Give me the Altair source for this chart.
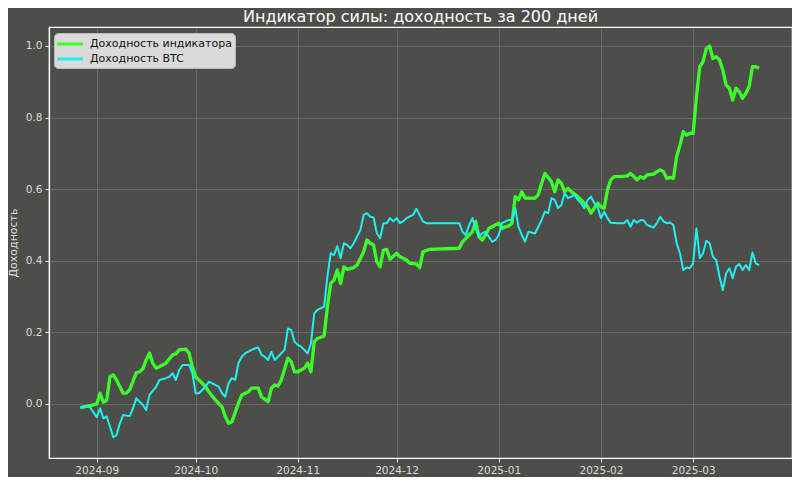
import altair as alt
import pandas as pd

TITLE = "Индикатор силы: доходность за 200 дней"
IND = "Доходность индикатора"
BTC = "Доходность BTC"
Y_TITLE = "Доходность"

# days counted from 2024-09-01
ind_days = [-5, -2, 0, 1, 2, 3, 4, 5, 6, 8, 9, 10, 12, 13, 14, 15, 16, 17, 18, 20,
            21, 23, 24, 25, 27, 28, 29, 30, 31, 33, 34, 36, 38, 39, 40, 41, 43, 44, 46, 47,
            49, 50, 52, 53, 54, 55, 56, 58, 59, 60, 61, 63, 64, 65, 66, 67, 69, 70, 71, 72,
            73, 74, 75, 76, 78, 79, 81, 82, 83, 84, 85, 86, 87, 88, 89, 91, 92, 94, 95, 97,
            98, 99, 101, 110, 111, 113, 114, 115, 116, 117, 118, 119, 121, 122, 123, 124, 125, 126, 127, 128,
            129, 130, 133, 134, 135, 136, 138, 139, 140, 141, 142, 143, 144, 146, 147, 149, 150, 151, 152, 153,
            154, 155, 156, 157, 159, 161, 162, 163, 164, 165, 166, 167, 169, 170, 171, 172, 173, 174, 175, 176,
            177, 178, 179, 180, 181, 182, 183, 184, 185, 186, 187, 188, 189, 190, 191, 192, 193, 194, 195, 196,
            197, 198, 199, 200, 201]
ind_vals = [-0.01, -0.005, 0.0, 0.03, 0.005, 0.01, 0.076, 0.081, 0.067, 0.03, 0.03, 0.04, 0.087, 0.09, 0.098, 0.123, 0.142, 0.114, 0.1, 0.109,
            0.114, 0.137, 0.14, 0.151, 0.153, 0.142, 0.104, 0.076, 0.067, 0.048, 0.034, 0.011, -0.008, -0.035, -0.054, -0.05, 0.002, 0.025, 0.034, 0.044,
            0.044, 0.02, 0.006, 0.044, 0.053, 0.05, 0.067, 0.128, 0.118, 0.09, 0.09, 0.1, 0.114, 0.09, 0.174, 0.183, 0.19, 0.272, 0.337, 0.346,
            0.374, 0.337, 0.383, 0.376, 0.381, 0.388, 0.425, 0.458, 0.449, 0.444, 0.397, 0.383, 0.43, 0.432, 0.404, 0.421, 0.411, 0.402, 0.393, 0.391,
            0.381, 0.425, 0.432, 0.435, 0.453, 0.472, 0.481, 0.51, 0.467, 0.458, 0.472, 0.49, 0.5, 0.505, 0.49, 0.495, 0.497, 0.505, 0.579, 0.57,
            0.593, 0.575, 0.575, 0.585, 0.616, 0.644, 0.621, 0.593, 0.626, 0.616, 0.593, 0.602, 0.593, 0.579, 0.57, 0.551, 0.533, 0.547, 0.561, 0.551,
            0.547, 0.598, 0.626, 0.635, 0.635, 0.637, 0.644, 0.635, 0.626, 0.635, 0.63, 0.64, 0.642, 0.649, 0.654, 0.649, 0.63, 0.633, 0.63, 0.691,
            0.723, 0.761, 0.751, 0.756, 0.756, 0.858, 0.942, 0.956, 0.993, 1.0, 0.965, 0.97, 0.961, 0.933, 0.891, 0.882, 0.849, 0.882, 0.872, 0.854,
            0.868, 0.887, 0.942, 0.942, 0.938]

btc_days = [-5, -3, -2, 0, 1, 2, 3, 4, 5, 6, 7, 8, 10, 11, 12, 13, 14, 15, 16, 18,
            19, 21, 22, 23, 24, 25, 26, 28, 29, 30, 31, 33, 34, 36, 37, 38, 39, 40, 41, 42,
            43, 44, 45, 47, 48, 49, 50, 51, 52, 53, 54, 55, 57, 58, 59, 60, 61, 62, 63, 64,
            65, 66, 67, 69, 70, 71, 72, 73, 74, 75, 76, 77, 78, 80, 81, 82, 83, 84, 85, 86,
            87, 88, 89, 90, 91, 92, 93, 94, 96, 97, 99, 100, 101, 110, 111, 112, 113, 114, 115, 116,
            117, 118, 120, 121, 122, 123, 125, 126, 127, 128, 129, 130, 131, 133, 134, 135, 136, 137, 138, 139,
            140, 141, 142, 143, 144, 145, 146, 147, 148, 149, 150, 151, 152, 153, 154, 155, 156, 158, 160, 161,
            162, 163, 164, 165, 166, 167, 169, 170, 171, 172, 173, 174, 175, 176, 177, 178, 179, 180, 181, 182,
            183, 184, 185, 186, 187, 188, 189, 190, 191, 192, 193, 194, 195, 196, 197, 198, 199, 200, 201]
btc_vals = [-0.01, -0.006, -0.01, -0.037, -0.012, -0.04, -0.035, -0.063, -0.093, -0.087, -0.054, -0.031, -0.034, -0.012, 0.016, 0.006, -0.003, -0.017, 0.025, 0.048,
            0.067, 0.072, 0.076, 0.086, 0.067, 0.095, 0.109, 0.109, 0.086, 0.03, 0.03, 0.048, 0.062, 0.053, 0.048, 0.03, 0.02, 0.058, 0.072, 0.067,
            0.114, 0.132, 0.141, 0.151, 0.155, 0.158, 0.137, 0.132, 0.123, 0.146, 0.123, 0.132, 0.151, 0.211, 0.207, 0.174, 0.165, 0.16, 0.151, 0.141,
            0.169, 0.253, 0.263, 0.272, 0.356, 0.421, 0.416, 0.441, 0.407, 0.449, 0.444, 0.435, 0.449, 0.486, 0.528, 0.533, 0.523, 0.521, 0.477, 0.463,
            0.505, 0.505, 0.519, 0.51, 0.519, 0.505, 0.51, 0.519, 0.528, 0.545, 0.51, 0.505, 0.505, 0.505, 0.481, 0.472, 0.5, 0.519, 0.49, 0.467,
            0.477, 0.481, 0.453, 0.458, 0.472, 0.505, 0.514, 0.514, 0.547, 0.495, 0.472, 0.453, 0.481, 0.476, 0.495, 0.514, 0.537, 0.533, 0.575, 0.57,
            0.547, 0.556, 0.589, 0.575, 0.579, 0.584, 0.57, 0.561, 0.547, 0.57, 0.579, 0.561, 0.551, 0.519, 0.537, 0.519, 0.506, 0.505, 0.505, 0.514,
            0.495, 0.514, 0.506, 0.514, 0.513, 0.5, 0.493, 0.505, 0.523, 0.51, 0.505, 0.507, 0.5, 0.449, 0.421, 0.374, 0.381, 0.379, 0.393, 0.49,
            0.407, 0.421, 0.456, 0.449, 0.411, 0.402, 0.356, 0.318, 0.365, 0.379, 0.351, 0.383, 0.391, 0.374, 0.388, 0.374, 0.423, 0.393, 0.388]

y_ticks = [0.0, 0.2, 0.4, 0.6, 0.8, 1.0]

START = pd.Timestamp("2024-09-01")


def make_df(days, vals, name):
    d = START + pd.to_timedelta(days, unit="D")
    return pd.DataFrame({
        "date": d.strftime("%Y-%m-%dT%H:%M:%S"),
        "value": vals,
        "series": name,
    })


df_ind = make_df(ind_days, ind_vals, IND)
df_btc = make_df(btc_days, btc_vals, BTC)

BG = "#4d4e4a"
FONT = "DejaVu Sans"

month_ticks = [alt.DateTime(year=2024, month=m, date=1) for m in (9, 10, 11, 12)] + \
              [alt.DateTime(year=2025, month=m, date=1) for m in (1, 2, 3)]

x_enc = alt.X(
    "date:T",
    scale=alt.Scale(domain=[alt.DateTime(year=2024, month=8, date=17, hours=12),
                            alt.DateTime(year=2025, month=3, date=31)]),
    axis=alt.Axis(values=month_ticks, format="%Y-%m", title=None, labelFlush=False),
)
y_enc = alt.Y(
    "value:Q",
    scale=alt.Scale(domain=[-0.151, 1.053], nice=False, zero=False),
    axis=alt.Axis(values=y_ticks, format=".1f", title=Y_TITLE),
)
color_scale = alt.Scale(domain=[IND, BTC], range=["#3cff2a", "#1ff0f0"])
legend = alt.Legend(
    title=None, orient="none", legendX=5, legendY=6,
    symbolType="M-2,0H2", symbolStrokeWidth=3, symbolSize=169, symbolOffset=5,
    fillColor="#dadada", strokeColor="#bbbbbb", cornerRadius=4, padding=3,
    labelFont=FONT, labelFontSize=11, labelColor="#111111", rowPadding=1,
    labelLimit=400, labelOffset=12,
)

ind_line = alt.Chart(df_ind).mark_line(strokeWidth=3.3, strokeJoin="round").encode(
    x=x_enc, y=y_enc,
    color=alt.Color("series:N", scale=color_scale, legend=legend),
)
btc_line = alt.Chart(df_btc).mark_line(strokeWidth=2, strokeJoin="round").encode(
    x=x_enc, y=y_enc,
    color=alt.Color("series:N", scale=color_scale, legend=legend),
)

chart = alt.layer(ind_line, btc_line).properties(
    width=743, height=431,
    title=alt.TitleParams(TITLE, font=FONT, fontSize=16, fontWeight="normal",
                          color="#ffffff", anchor="middle", offset=2),
    background=BG,
    padding={"left": 41, "top": 19, "right": 0, "bottom": 19},
    autosize=alt.AutoSizeParams(type="none"),
).configure_view(
    stroke="#ffffff", strokeWidth=1.2, fill=BG,
).configure_axis(
    labelFont=FONT, labelFontSize=10.5, labelColor="#dcdcdc",
    titleFont=FONT, titleFontSize=11, titleColor="#dcdcdc", titleFontWeight="normal",
    titlePadding=7,
    domainColor="#ffffff", domainWidth=1.2,
    tickColor="#ffffff", tickSize=4, labelPadding=3,
    gridColor="#ffffff", gridOpacity=0.2, gridWidth=0.8,
)

chart.save("out.html", embed_options={"renderer": "svg", "actions": False})
